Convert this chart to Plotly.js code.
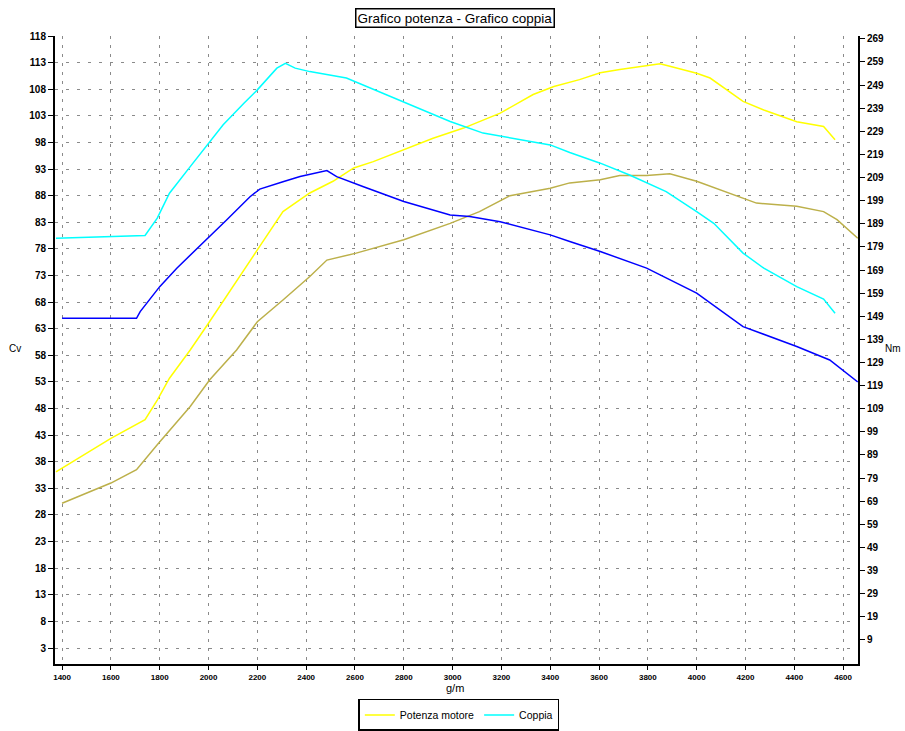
<!DOCTYPE html>
<html>
<head>
<meta charset="utf-8">
<script src="https://cdn.plot.ly/plotly-3.0.1.min.js"></script>
<style>html,body{margin:0;padding:0;background:#fff}#chart{width:905px;height:731px}</style>
</head>
<body>
<div id="chart"></div>
<script>
// Potenza motore (Cv, left axis) - yellow
const rpmPotenza = [1375,1600,1740,1790,1840,1925,1995,2060,2135,2200,2305,2375,2415,2510,2595,2675,2800,2920,3045,3195,3330,3415,3520,3605,3685,3795,3850,3890,4000,4055,4190,4275,4410,4520,4567];
const cvPotenza  = [36.1,42.4,45.9,49.6,53.7,59.0,63.7,68.1,73.4,77.8,85.0,87.2,88.5,90.7,93.2,94.4,96.6,98.8,100.7,103.5,107.0,108.5,109.8,111.1,111.7,112.4,112.8,112.3,111.0,110.1,105.7,104.1,101.9,101.0,98.5];

// Coppia (Nm, right axis) - cyan
const rpmCoppia = [1375,1575,1740,1790,1840,1925,1995,2060,2145,2200,2280,2315,2355,2415,2565,2650,2800,2990,3125,3210,3400,3480,3605,3725,3875,4000,4070,4190,4275,4410,4520,4567];
const nmCoppia  = [182.7,183.4,183.9,191.4,202.2,213.7,223.1,231.8,241.1,246.9,256.3,258.4,256.3,254.8,252.0,248.3,241.8,233.2,228.2,226.7,223.1,219.8,215.2,210.1,202.9,194.2,189.2,176.3,169.8,161.8,156.4,150.3];

// Potenza (Cv, left axis) - second curve, dark yellow
const rpmPotenza2 = [1400,1600,1705,1790,1925,2005,2115,2200,2305,2375,2415,2485,2605,2800,2990,3110,3235,3400,3480,3605,3685,3795,3890,4000,4190,4245,4410,4520,4575,4660];
const cvPotenza2  = [30.2,34.0,36.5,41.2,48.4,53.4,59.0,64.3,68.4,71.2,72.8,75.9,77.2,79.7,82.8,85.0,88.0,89.4,90.4,91.0,91.8,91.8,92.1,90.7,87.5,86.6,86.0,85.0,83.5,80.0];

// Coppia (Nm, right axis) - second curve, blue
const rpmCoppia2 = [1400,1705,1720,1800,1870,1985,2075,2170,2210,2305,2375,2485,2525,2635,2800,2990,3070,3195,3400,3480,3605,3795,4000,4190,4410,4545,4660];
const nmCoppia2  = [148.1,148.1,151.0,161.8,169.8,181.3,190.7,200.7,204.0,207.2,209.4,212.0,209.4,205.0,198.6,192.8,192.1,189.9,184.2,181.3,177.0,169.8,159.0,144.5,135.9,130.1,120.6];

const xTicks = [1400,1600,1800,2000,2200,2400,2600,2800,3000,3200,3400,3600,3800,4000,4200,4400,4600];
const cvTicks = [3,8,13,18,23,28,33,38,43,48,53,58,63,68,73,78,83,88,93,98,103,108,113,118];
const nmTicks = [9,19,29,39,49,59,69,79,89,99,109,119,129,139,149,159,169,179,189,199,209,219,229,239,249,259,269];

const FONT = '"Liberation Sans", Arial, sans-serif';

const traces = [
  {x: rpmPotenza2, y: cvPotenza2, type:'scatter', mode:'lines', line:{color:'#bcb04a', width:1.5}, showlegend:false, yaxis:'y'},
  {x: rpmCoppia2, y: nmCoppia2, type:'scatter', mode:'lines', line:{color:'#0000ff', width:1.5}, showlegend:false, yaxis:'y2'},
  {x: rpmPotenza, y: cvPotenza, type:'scatter', mode:'lines', name:'Potenza motore', line:{color:'#ffff00', width:1.5}, yaxis:'y'},
  {x: rpmCoppia, y: nmCoppia, type:'scatter', mode:'lines', name:'Coppia', line:{color:'#00ffff', width:1.5}, yaxis:'y2'}
];

const layout = {
  width: 905, height: 731,
  margin: {l:55, r:47, t:36, b:67, pad:0, autoexpand:false},
  paper_bgcolor:'#fff', plot_bgcolor:'#fff',
  font: {family: FONT, color:'#000', size:10},
  showlegend: true,
  legend: {orientation:'h', xref:'container', yref:'container', x:0.507, y:0.022, xanchor:'center', yanchor:'middle',
           bordercolor:'#000', borderwidth:1.5, bgcolor:'#fff', font:{size:10.5, family:FONT},
           itemwidth:30, tracegroupgap:0},
  xaxis: {range:[1371,4661], tickvals:xTicks, ticktext:xTicks.map(String),
          showline:true, linecolor:'#000', linewidth:2, ticks:'outside', ticklen:4, tickcolor:'#000',
          showgrid:true, gridcolor:'#8a8a8a', griddash:'3px,6px', gridwidth:1,
          zeroline:false, tickfont:{size:8, family:FONT, weight:'bold'}, fixedrange:true},
  yaxis: {range:[0,118], tickvals:cvTicks, showline:true, linecolor:'#000', linewidth:2,
          ticks:'outside', ticklen:5, tickcolor:'#000',
          showgrid:true, gridcolor:'#8a8a8a', griddash:'3px,8px', gridwidth:1,
          zeroline:false, tickfont:{size:10, family:FONT, weight:'bold'}, fixedrange:true},
  yaxis2: {range:[-1.4,270.2], tickvals:nmTicks, overlaying:'y', side:'right',
           showline:true, linecolor:'#000', linewidth:2, ticks:'outside', ticklen:5, tickcolor:'#000',
           showgrid:false, zeroline:false, tickfont:{size:10, family:FONT, weight:'bold'}, fixedrange:true},
  annotations: [
    {text:'Grafico potenza - Grafico coppia', xref:'paper', yref:'paper', x:0.498, y:1.0287,
     xanchor:'center', yanchor:'middle', showarrow:false, font:{size:13.5, family:FONT, color:'#000'},
     bordercolor:'#000', borderwidth:1.5, borderpad:1, bgcolor:'#fff'},
    {text:'Cv', xref:'paper', yref:'paper', x:-0.0498, y:0.503, xanchor:'center', yanchor:'middle',
     showarrow:false, font:{size:10, family:FONT}},
    {text:'Nm', xref:'paper', yref:'paper', x:1.0436, y:0.503, xanchor:'center', yanchor:'middle',
     showarrow:false, font:{size:10, family:FONT}},
    {text:'g/m', xref:'paper', yref:'paper', x:0.498, y:-0.0375, xanchor:'center', yanchor:'middle',
     showarrow:false, font:{size:11, family:FONT}}
  ]
};

Plotly.newPlot('chart', traces, layout, {staticPlot:true, displayModeBar:false});
</script>
</body>
</html>
